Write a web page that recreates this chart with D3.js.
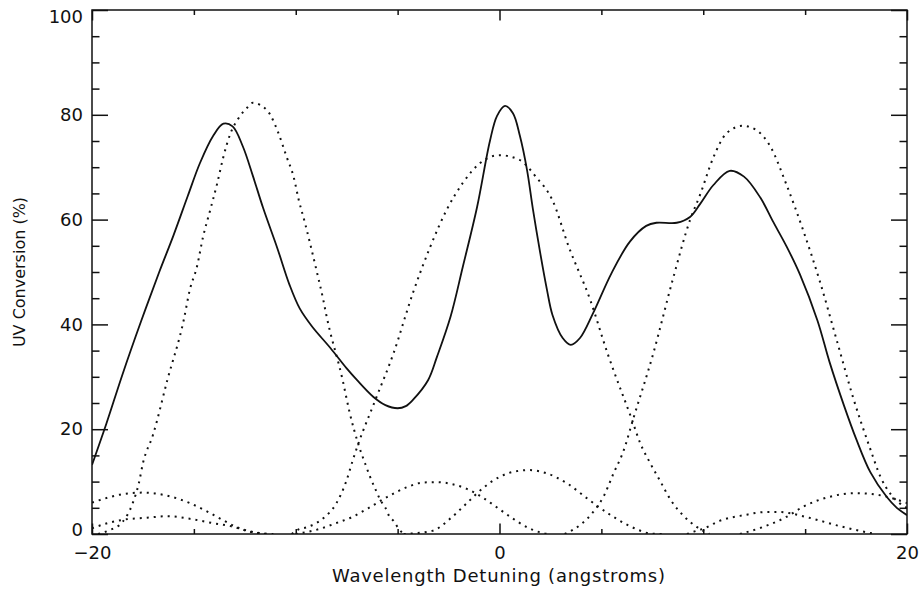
<!DOCTYPE html>
<html>
<head>
<meta charset="utf-8">
<script src="https://cdn.jsdelivr.net/npm/d3@7"></script>
<style>
	body { margin: 0; background: #fff; }
	text { font-family: "DejaVu Sans", sans-serif; fill: #111; }
</style>
</head>
<body>
<div id="chart"></div>
<script>

// Tick values
const xMajorTicks = [-20, 0, 20];
const xMinorTicks = [-15, -10, -5, 5, 10, 15];
const yMajorTicks = [0, 20, 40, 60, 80, 100];
const yMinorTicks = [5, 10, 15, 25, 30, 35, 45, 50, 55, 65, 70, 75, 85, 90, 95];

// Measured total conversion (solid) : [detuning, conversion %]
const totalConversion = [[-20,13.2],[-19.3,21.0],[-18.5,30.5],[-17.6,40.5],[-16.7,50.0],[-16.0,57.0],[-15.3,64.5],
	[-14.7,70.8],[-14.05,76.0],[-13.55,78.3],[-13.1,77.8],[-12.6,74.0],[-12.1,68.3],[-11.6,62.2],[-10.9,54.5],
	[-10.3,47.5],[-9.8,43.0],[-9.2,39.6],[-8.3,35.5],[-7.5,31.6],[-7.0,29.4],[-6.2,26.2],[-5.6,24.6],[-5.0,24.0],
	[-4.6,24.4],[-4.25,25.6],[-3.5,29.4],[-3.07,33.8],[-2.4,41.5],[-1.8,51.0],[-1.1,62.4],[-0.47,75.0],[-0.12,79.8],
	[0.27,81.7],[0.66,80.3],[1.0,76.0],[1.35,69.5],[1.64,62.0],[2.0,53.6],[2.33,46.6],[2.6,41.8],[3.1,37.4],[3.5,36.1],
	[3.95,37.4],[4.6,42.2],[5.5,49.8],[6.4,55.8],[7.2,58.8],[7.7,59.4],[8.7,59.4],[9.35,60.5],[9.85,63.0],[10.5,66.6],
	[11.3,69.3],[12.0,68.2],[12.8,64.2],[13.4,59.8],[14.1,54.8],[14.75,49.5],[15.6,40.8],[16.2,32.8],[16.9,24.6],
	[17.5,18.2],[18.2,11.8],[19.0,7.1],[19.5,5.0],[20,3.6]];

// Individual contributions (dotted)
const peakLeft = [[-19.7,0],[-19.1,0.8],[-18.5,2.3],[-18.0,5.9],[-17.7,9.7],[-17.5,13.5],[-17.0,19.0],[-16.3,29.4],
	[-15.5,40.8],[-15.2,46.6],[-14.85,51.0],[-14.55,56.7],[-14.2,61.8],[-13.85,67.0],[-13.55,72.0],[-13.2,76.5],
	[-12.8,79.4],[-12.4,81.3],[-12.1,82.3],[-11.75,81.9],[-11.25,80.0],[-10.85,76.5],[-10.45,72.0],[-10.1,68.1],
	[-9.85,63.7],[-9.55,59.4],[-9.3,55.5],[-8.95,49.8],[-8.65,44.7],[-8.5,41.8],[-7.7,29.4],[-7.35,23.1],[-6.95,17.4],
	[-6.6,13.5],[-6.35,10.9],[-6.05,8.2],[-5.85,6.5],[-5.6,5.0],[-5.4,3.3],[-5.2,2.5],[-4.95,1.0],[-4.7,0]];
const peakCentre = [[-10.2,0],[-9.9,0.8],[-9.45,1.3],[-8.65,3.0],[-8.0,5.9],[-7.5,10.3],[-7.2,14.1],[-6.95,17.0],
	[-6.1,25.5],[-5.2,34.5],[-4.25,46.0],[-3.4,54.8],[-2.6,61.8],[-1.8,67.0],[-0.95,70.8],[0,72.3],[0.98,71.4],
	[1.8,68.1],[2.6,63.7],[3.4,54.8],[4.45,44.7],[5.3,34.5],[6.5,21.8],[6.9,17.4],[7.4,13.5],[7.9,10.0],[8.4,6.5],
	[9.0,3.6],[9.7,1.3],[10.3,0]];
const peakRight = [[3.2,0],[3.95,1.7],[4.6,4.2],[5.1,7.1],[5.6,11.6],[6.1,16.0],[6.55,21.8],[7.55,34.5],[8.5,48.5],
	[9.35,59.9],[9.85,64.8],[10.5,71.9],[11.15,76.5],[11.95,77.9],[12.6,77.1],[13.3,73.9],[14.1,66.5],[14.9,58.0],
	[15.7,48.5],[16.55,37.0],[17.35,26.1],[18.2,16.2],[18.7,10.9],[19.2,7.6],[19.6,6.0],[20,5.0]];
const lobeA = [[-20,6.0],[-19.6,6.5],[-18.5,7.6],[-17.5,7.9],[-16.3,7.3],[-15.2,5.9],[-14.4,4.4],[-13.6,2.7],
	[-12.9,1.3],[-11.8,0.2],[-11.1,0]];
const lobeB = [[-20,1.1],[-19.2,2.1],[-18.5,2.7],[-17.3,3.1],[-16.3,3.4],[-15.2,2.9],[-14.1,2.1],[-13.2,1.5],
	[-12.2,0.4],[-11.5,0]];
const lobeC = [[-10.0,0],[-8.8,1.0],[-8.0,2.1],[-7.2,3.3],[-6.45,4.9],[-5.5,7.1],[-4.5,9.0],[-3.8,9.8],[-3.1,9.9],
	[-2.3,9.5],[-1.6,8.6],[-0.8,6.9],[-0.1,5.0],[0.6,3.1],[1.35,1.3],[2.1,0.2],[2.4,0]];
const lobeD = [[-4.7,0],[-3.3,0.6],[-2.4,3.0],[-1.6,5.9],[-0.8,8.8],[0,10.9],[0.85,12.0],[1.5,12.2],[2.3,11.6],
	[3.3,9.7],[4.4,6.5],[5.3,4.0],[6.3,1.7],[6.8,0.8],[7.4,0.1],[8.0,0]];
const lobeE = [[9.2,0],[9.5,0.4],[10.0,1.0],[10.8,2.5],[12.0,3.6],[13.1,4.2],[13.8,4.2],[14.2,4.0],[15.2,3.1],
	[16.7,1.5],[18.2,0.2],[18.5,0]];
const lobeF = [[11.8,0],[12.9,1.3],[14.1,3.3],[14.9,5.2],[16.2,7.1],[17.5,7.8],[18.8,7.3],[20,5.9]];

const dottedSeries = [peakLeft, peakCentre, peakRight, lobeA, lobeB, lobeC, lobeD, lobeE, lobeF];

class LineChart{

	constructor(_parentElement){
		this.parentElement = _parentElement;
		this.initializeChart();
	}

	initializeChart(){
		var vis = this;

		vis.margin = {top: 10, right: 14, bottom: 55, left: 92};
		vis.width = 815;
		vis.height = 524;

		vis.svg = d3.select(vis.parentElement).append("svg")
			.attr("width", 921)
			.attr("height", 589);

		vis.chart = vis.svg.append("g")
			.attr("transform", "translate(" + vis.margin.left + "," + vis.margin.top + ")");

		vis.xscale = d3.scaleLinear().domain([-20, 20]).range([0, vis.width]);
		vis.yscale = d3.scaleLinear().domain([0, 100]).range([vis.height, 0]);

		vis.chart.append("clipPath").attr("id", "plot-clip")
			.append("rect").attr("width", vis.width).attr("height", vis.height);

		vis.drawAxes();
		vis.updateChart();
	}

	drawAxes(){
		var vis = this;

		var tickStyle = g => {
			g.select(".domain").remove();
			g.selectAll("line").attr("stroke", "#111").attr("stroke-width", 1.5);
			g.selectAll("text").attr("font-size", 18).attr("fill", "#111");
		};

		// bottom
		vis.chart.append("g").attr("transform", "translate(0," + vis.height + ")")
			.call(d3.axisBottom(vis.xscale).tickValues(xMinorTicks).tickSize(-5).tickFormat(""))
			.call(tickStyle);
		vis.chart.append("g").attr("class", "x-axis").attr("transform", "translate(0," + vis.height + ")")
			.call(d3.axisBottom(vis.xscale).tickValues(xMajorTicks).tickSize(-10.5).tickPadding(12)
				.tickFormat(d => d < 0 ? "\u2212" + Math.abs(d) : d))
			.call(tickStyle);

		// top
		vis.chart.append("g")
			.call(d3.axisTop(vis.xscale).tickValues(xMinorTicks).tickSize(-5).tickFormat(""))
			.call(tickStyle);
		vis.chart.append("g")
			.call(d3.axisTop(vis.xscale).tickValues(xMajorTicks).tickSize(-10.5).tickFormat(""))
			.call(tickStyle);

		// left
		vis.chart.append("g")
			.call(d3.axisLeft(vis.yscale).tickValues(yMinorTicks).tickSize(-7.5).tickFormat(""))
			.call(tickStyle);
		vis.chart.append("g").attr("class", "y-axis")
			.call(d3.axisLeft(vis.yscale).tickValues(yMajorTicks).tickSize(-16).tickPadding(9))
			.call(tickStyle)
			.selectAll("text")
			.attr("transform", d => d == 0 ? "translate(0,-4)" : (d == 100 ? "translate(0,7)" : null));

		// right
		vis.chart.append("g").attr("transform", "translate(" + vis.width + ",0)")
			.call(d3.axisRight(vis.yscale).tickValues(yMinorTicks).tickSize(-7.5).tickFormat(""))
			.call(tickStyle);
		vis.chart.append("g").attr("transform", "translate(" + vis.width + ",0)")
			.call(d3.axisRight(vis.yscale).tickValues(yMajorTicks).tickSize(-16).tickFormat(""))
			.call(tickStyle);

		// frame
		vis.chart.append("rect")
			.attr("width", vis.width)
			.attr("height", vis.height)
			.attr("fill", "none")
			.attr("stroke", "#111")
			.attr("stroke-width", 1.5);

		// axis titles
		vis.chart.append("text")
			.attr("x", vis.width / 2 - 1)
			.attr("y", vis.height + 48)
			.attr("text-anchor", "middle")
			.attr("font-size", 18)
			.attr("textLength", 333)
			.attr("lengthAdjust", "spacing")
			.text("Wavelength Detuning (angstroms)");

		vis.chart.append("text")
			.attr("transform", "translate(" + (25 - vis.margin.left) + "," + (vis.height / 2) + ") rotate(-90)")
			.attr("text-anchor", "middle")
			.attr("font-size", 16)
			.text("UV Conversion (%)");
	}

	updateChart(){
		var vis = this;

		var dotted = d3.line()
			.x(d => vis.xscale(d[0]))
			.y(d => vis.yscale(d[1]))
			.curve(d3.curveMonotoneX);

		var solid = d3.line()
			.x(d => vis.xscale(d[0]))
			.y(d => vis.yscale(d[1]))
			.curve(d3.curveCatmullRom.alpha(0.5));

		var plot = vis.chart.append("g").attr("clip-path", "url(#plot-clip)");

		plot.selectAll("path.component").data(dottedSeries)
			.enter().append("path")
			.attr("class", "component")
			.attr("d", dotted)
			.attr("fill", "none")
			.attr("stroke", "#111")
			.attr("stroke-width", 2)
			.attr("stroke-dasharray", "2,5");

		plot.append("path")
			.datum(totalConversion)
			.attr("class", "total")
			.attr("d", solid)
			.attr("fill", "none")
			.attr("stroke", "#111")
			.attr("stroke-width", 1.8);
	}
}

new LineChart("#chart");

</script>
</body>
</html>
